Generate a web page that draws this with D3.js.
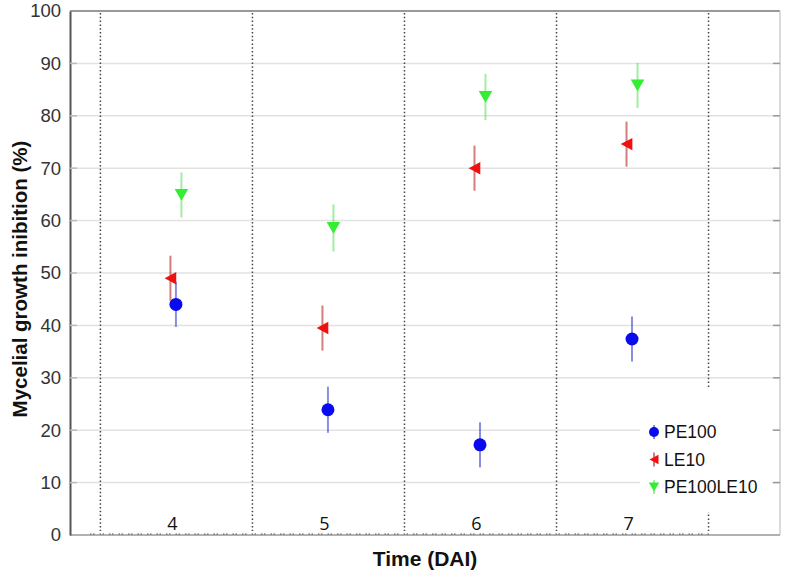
<!DOCTYPE html>
<html>
<head>
<meta charset="utf-8">
<script src="https://cdn.jsdelivr.net/npm/d3@7/dist/d3.min.js"></script>
<style>
  html, body { margin: 0; padding: 0; background: #fff; }
  svg { display: block; }
</style>
</head>
<body>
<svg id="chart" width="787" height="572"></svg>
<script>
// ---- Data ----
const days = [4, 5, 6, 7];
const dayTickLabels = ["4", "5", "6", "7"];
const separators = [3.5, 4.5, 5.5, 6.5, 7.5];
const yTicks = [0, 10, 20, 30, 40, 50, 60, 70, 80, 90, 100];

const seriesNames = ["PE100", "LE10", "PE100LE10"];
const pe100 = [44.0, 23.9, 17.2, 37.4];
const pe100Err = [4.3, 4.4, 4.3, 4.3];
const le10 = [49.0, 39.5, 70.0, 74.6];
const le10Err = [4.3, 4.3, 4.3, 4.3];
const pe100le10 = [64.9, 58.6, 83.6, 85.8];
const pe100le10Err = [4.3, 4.5, 4.4, 4.3];

const yLabel = "Mycelial growth inibition (%)";
const xLabel = "Time (DAI)";

// ---- Layout ----
const svg = d3.select("#chart");
const L = 70, R = 780, T = 11, B = 535;

const x = d3.scaleLinear().domain([3.3, 7.97]).range([L, R]);
const y = d3.scaleLinear().domain([0, 100]).range([B, T]);
// dodge within each day
const dodge = d3.scalePoint().domain(["LE10", "PE100", "PE100LE10"]).range([-6, 5]);

const style = {
  PE100: { color: "#0a0af0", err: "rgba(40,50,200,0.55)", shape: "circle" },
  LE10: { color: "#ee1111", err: "rgba(180,40,40,0.6)", shape: "left" },
  PE100LE10: { color: "#33ee33", err: "rgba(90,220,90,0.55)", shape: "down" }
};

const series = [
  { name: "PE100", vals: pe100, errs: pe100Err },
  { name: "LE10", vals: le10, errs: le10Err },
  { name: "PE100LE10", vals: pe100le10, errs: pe100le10Err }
];

// ---- Grid ----
svg.append("g").selectAll("line").data(yTicks.filter(v => v > 0 && v < 100)).join("line")
  .attr("x1", L).attr("x2", R)
  .attr("y1", d => y(d)).attr("y2", d => y(d))
  .attr("stroke", "#e2e2e2").attr("stroke-width", 1.5);

// Separators (dotted vertical)
svg.append("g").selectAll("line").data(separators).join("line")
  .attr("x1", d => x(d)).attr("x2", d => x(d))
  .attr("y1", T + 2).attr("y2", B - 4)
  .attr("stroke", "#444").attr("stroke-width", 1.5)
  .attr("stroke-dasharray", "1.5,2.3");

// Frame
svg.append("line").attr("x1", L).attr("x2", R).attr("y1", T).attr("y2", T)
  .attr("stroke", "#777").attr("stroke-width", 1.5);
svg.append("line").attr("x1", R).attr("x2", R).attr("y1", T).attr("y2", B)
  .attr("stroke", "#cfcfcf").attr("stroke-width", 1.5);
// right inner ticks
svg.append("g").selectAll("line").data(yTicks.filter(v => v > 0 && v < 100)).join("line")
  .attr("x1", R - 7).attr("x2", R)
  .attr("y1", d => y(d)).attr("y2", d => y(d))
  .attr("stroke", "#999").attr("stroke-width", 1.5);

// Bottom axis line (gray with dotted overlay)
svg.append("line").attr("x1", L).attr("x2", R).attr("y1", B).attr("y2", B)
  .attr("stroke", "#999").attr("stroke-width", 1.5);
svg.append("line").attr("x1", L + 20).attr("x2", R - 70).attr("y1", B - 1).attr("y2", B - 1)
  .attr("stroke", "#555").attr("stroke-width", 1.2).attr("stroke-dasharray", "1.5,1.5,1.5,5");

// Left axis
const yAxis = d3.axisLeft(y).tickValues(yTicks).tickSize(0).tickPadding(9).tickFormat(d3.format("d"));
const gy = svg.append("g").attr("transform", `translate(${L},0)`).call(yAxis);
gy.select(".domain").attr("stroke", "#555").attr("stroke-width", 2);
gy.selectAll("text").attr("font-family", "Liberation Sans, Arial, sans-serif")
  .attr("font-size", 18.5).attr("fill", "#333");
// left inner ticks
svg.append("g").selectAll("line").data(yTicks.filter(v => v > 0 && v < 100)).join("line")
  .attr("x1", L).attr("x2", L + 7)
  .attr("y1", d => y(d)).attr("y2", d => y(d))
  .attr("stroke", "#bbb").attr("stroke-width", 1.5);

// X tick labels (inside plot, above the bottom axis)
svg.append("g").selectAll("text").data(days).join("text")
  .attr("x", d => x(d) - 4).attr("y", B - 5)
  .attr("text-anchor", "middle")
  .attr("font-family", "Open Sans, Liberation Sans, sans-serif")
  .attr("font-size", 18).attr("fill", "#111")
  .text((d, i) => dayTickLabels[i]);

// Axis titles
svg.append("text")
  .attr("transform", `translate(27,${(T + B) / 2 + 6}) rotate(-90)`)
  .attr("text-anchor", "middle")
  .attr("font-family", "Liberation Sans, Arial, sans-serif")
  .attr("font-weight", "bold").attr("font-size", 20.5).attr("fill", "#111")
  .text(yLabel);
svg.append("text")
  .attr("x", 425).attr("y", 566)
  .attr("text-anchor", "middle")
  .attr("font-family", "Liberation Sans, Arial, sans-serif")
  .attr("font-weight", "bold").attr("font-size", 21).attr("fill", "#111")
  .text(xLabel);

// Marker shape helper
function marker(sel, shape, color, s) {
  if (shape === "circle") {
    sel.append("circle").attr("r", s * 0.5).attr("fill", color);
  } else if (shape === "left") {
    const w = s * 0.9, h = s * 0.95;
    sel.append("path").attr("d", `M${-w / 2},0 L${w / 2},${-h / 2} L${w / 2},${h / 2} Z`).attr("fill", color);
  } else {
    const w = s * 1.05, h = s * 0.9;
    sel.append("path").attr("d", `M${-w / 2},${-h / 2} L${w / 2},${-h / 2} L0,${h / 2} Z`).attr("fill", color);
  }
}

// ---- Points with error bars ----
series.forEach(sr => {
  const st = style[sr.name];
  const g = svg.append("g");
  const pts = days.map((d, i) => ({ d, v: sr.vals[i], e: sr.errs[i] }));
  g.selectAll("line").data(pts).join("line")
    .attr("x1", p => x(p.d) + dodge(sr.name)).attr("x2", p => x(p.d) + dodge(sr.name))
    .attr("y1", p => y(p.v - p.e)).attr("y2", p => y(p.v + p.e))
    .attr("stroke", st.err).attr("stroke-width", 2);
  g.selectAll("g.m").data(pts).join("g").attr("class", "m")
    .attr("transform", p => `translate(${x(p.d) + dodge(sr.name)},${y(p.v)})`)
    .each(function () { marker(d3.select(this), st.shape, st.color, 13); });
});

// ---- Legend ----
const lg = svg.append("g").attr("transform", "translate(640,388)");
lg.append("rect").attr("width", 132).attr("height", 124).attr("fill", "#fff");
const rowY = d3.scalePoint().domain(seriesNames).range([44, 99]);
seriesNames.forEach(n => {
  const st = style[n];
  const row = lg.append("g").attr("transform", `translate(14,${rowY(n)})`);
  row.append("line").attr("x1", 0).attr("x2", 0).attr("y1", -7).attr("y2", 7)
    .attr("stroke", st.err).attr("stroke-width", 2);
  marker(row.append("g"), st.shape, st.color, 10);
  row.append("text").attr("x", 10).attr("y", 0).attr("dy", "0.36em")
    .attr("font-family", "Liberation Sans, Arial, sans-serif")
    .attr("font-size", 17.5).attr("fill", "#111")
    .text(n);
});
</script>
</body>
</html>
